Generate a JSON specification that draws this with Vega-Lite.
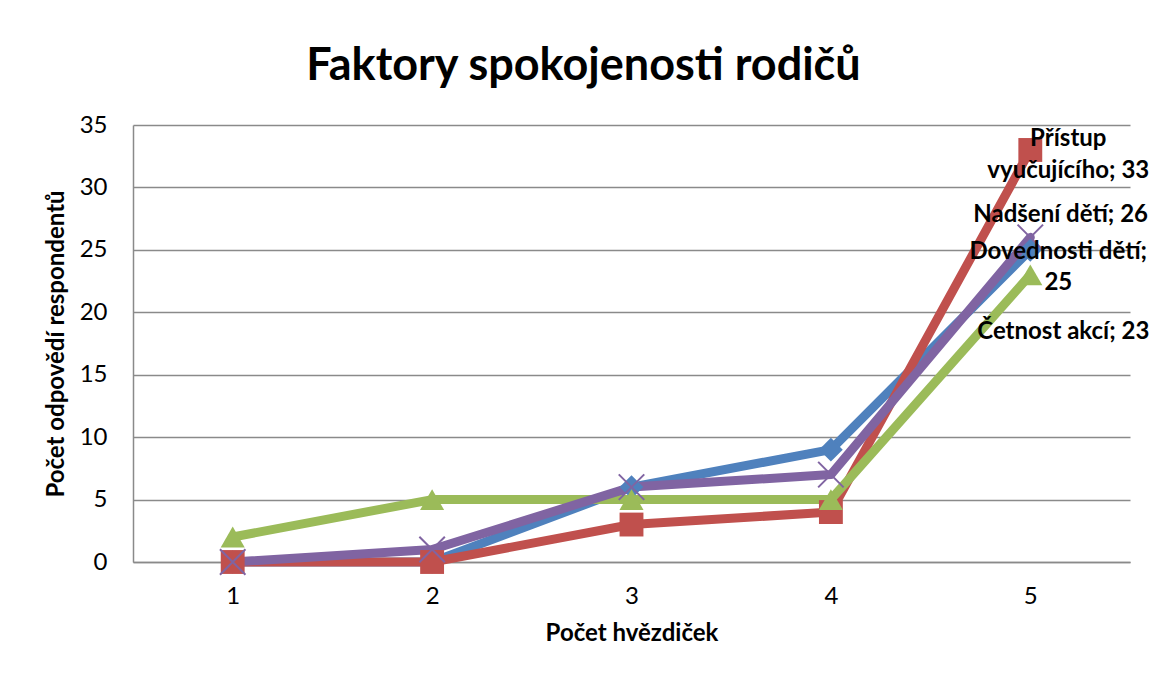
{
  "$schema": "https://vega.github.io/schema/vega-lite/v6.json",
  "width": 997,
  "height": 437,
  "autosize": "none",
  "padding": {"left": 133, "top": 125, "right": 19, "bottom": 115},
  "background": "white",
  "config": {"view": {"stroke": null}, "font": "Lato"},
  "title": {
    "text": "Faktory spokojenosti rodičů",
    "font": "Lato",
    "fontSize": 45,
    "fontWeight": "bold",
    "color": "black",
    "anchor": "middle",
    "frame": "group",
    "dx": -48,
    "baseline": "alphabetic",
    "offset": -12
  },
  "datasets": {
    "series": [
      {"s": "Dovednosti dětí", "x": 1, "y": 0},
      {"s": "Dovednosti dětí", "x": 2, "y": 0},
      {"s": "Dovednosti dětí", "x": 3, "y": 6},
      {"s": "Dovednosti dětí", "x": 4, "y": 9},
      {"s": "Dovednosti dětí", "x": 5, "y": 25},
      {"s": "Přístup vyučujícího", "x": 1, "y": 0},
      {"s": "Přístup vyučujícího", "x": 2, "y": 0},
      {"s": "Přístup vyučujícího", "x": 3, "y": 3},
      {"s": "Přístup vyučujícího", "x": 4, "y": 4},
      {"s": "Přístup vyučujícího", "x": 5, "y": 33},
      {"s": "Četnost akcí", "x": 1, "y": 2},
      {"s": "Četnost akcí", "x": 2, "y": 5},
      {"s": "Četnost akcí", "x": 3, "y": 5},
      {"s": "Četnost akcí", "x": 4, "y": 5},
      {"s": "Četnost akcí", "x": 5, "y": 23},
      {"s": "Nadšení dětí", "x": 1, "y": 0},
      {"s": "Nadšení dětí", "x": 2, "y": 1},
      {"s": "Nadšení dětí", "x": 3, "y": 6},
      {"s": "Nadšení dětí", "x": 4, "y": 7},
      {"s": "Nadšení dětí", "x": 5, "y": 26}
    ],
    "labels": [
      {"s": "Dovednosti dětí", "x": 5, "y": 25, "lbl": "Dovednosti dětí;\n25"},
      {"s": "Přístup vyučujícího", "x": 5, "y": 33, "lbl": "Přístup\nvyučujícího; 33"},
      {"s": "Četnost akcí", "x": 5, "y": 23, "lbl": "Četnost akcí; 23"},
      {"s": "Nadšení dětí", "x": 5, "y": 26, "lbl": "Nadšení dětí; 26"}
    ]
  },
  "data": {"name": "series"},
  "encoding": {
    "x": {
      "field": "x",
      "type": "ordinal",
      "scale": {"type": "point", "padding": 0.5},
      "axis": {
        "title": "Počet hvězdiček",
        "titleFont": "Lato",
        "titleFontSize": 24,
        "titleFontWeight": "bold",
        "titleColor": "black",
        "titlePadding": 13,
        "labelFont": "Lato",
        "labelFontSize": 24,
        "labelColor": "black",
        "labelAngle": 0,
        "labelPadding": 22,
        "ticks": false,
        "tickSize": 0,
        "domain": true,
        "domainColor": "#8a8a8a",
        "domainWidth": 1.5,
        "grid": false
      }
    },
    "y": {
      "field": "y",
      "type": "quantitative",
      "scale": {"domain": [0, 35], "nice": false, "zero": true},
      "axis": {
        "title": "Počet odpovědí respondentů",
        "values": [0, 5, 10, 15, 20, 25, 30, 35],
        "titleFont": "Lato",
        "titleFontSize": 24,
        "titleFontWeight": "bold",
        "titleColor": "black",
        "titlePadding": 11,
        "labelFont": "Lato",
        "labelFontSize": 24,
        "labelColor": "black",
        "labelPadding": 26,
        "ticks": false,
        "tickSize": 0,
        "domain": true,
        "domainColor": "#8a8a8a",
        "domainWidth": 1.5,
        "grid": true,
        "gridColor": "#8a8a8a",
        "gridWidth": 1.5
      }
    }
  },
  "layer": [
    {
      "mark": {"type": "line", "strokeWidth": 9, "strokeCap": "round", "strokeJoin": "round"},
      "encoding": {
        "color": {
          "field": "s",
          "type": "nominal",
          "scale": {
            "domain": ["Dovednosti dětí", "Přístup vyučujícího", "Četnost akcí", "Nadšení dětí"],
            "range": ["#4F81BD", "#C0504D", "#9BBB59", "#8064A2"]
          },
          "legend": null
        }
      }
    },
    {
      "transform": [{"filter": "datum.s !== 'Nadšení dětí'"}],
      "mark": {"type": "point", "filled": true, "opacity": 1},
      "encoding": {
        "shape": {
          "field": "s",
          "type": "nominal",
          "scale": {
            "domain": ["Dovednosti dětí", "Přístup vyučujícího", "Četnost akcí"],
            "range": ["diamond", "square", "triangle-up"]
          },
          "legend": null
        },
        "size": {
          "field": "s",
          "type": "nominal",
          "scale": {
            "domain": ["Dovednosti dětí", "Přístup vyučujícího", "Četnost akcí"],
            "range": [560, 580, 640]
          },
          "legend": null
        },
        "color": {
          "field": "s",
          "type": "nominal",
          "scale": {
            "domain": ["Dovednosti dětí", "Přístup vyučujícího", "Četnost akcí", "Nadšení dětí"],
            "range": ["#4F81BD", "#C0504D", "#9BBB59", "#8064A2"]
          },
          "legend": null
        }
      }
    },
    {
      "transform": [{"filter": "datum.s === 'Nadšení dětí'"}],
      "mark": {
        "type": "point",
        "shape": "M-1,-1L1,1M1,-1L-1,1",
        "filled": false,
        "size": 650,
        "strokeWidth": 2,
        "color": "#8064A2",
        "opacity": 1
      }
    },
    {
      "data": {"name": "labels"},
      "transform": [{"filter": "datum.s === 'Přístup vyučujícího'"}],
      "mark": {"type": "text", "font": "Lato", "fontSize": 24, "fontWeight": "bold", "color": "black", "align": "center", "baseline": "middle", "lineBreak": "\n", "lineHeight": 32, "dx": 38, "dy": -11},
      "encoding": {"text": {"field": "lbl"}}
    },
    {
      "data": {"name": "labels"},
      "transform": [{"filter": "datum.s === 'Nadšení dětí'"}],
      "mark": {"type": "text", "font": "Lato", "fontSize": 24, "fontWeight": "bold", "color": "black", "align": "left", "baseline": "middle", "dx": -57, "dy": -22},
      "encoding": {"text": {"field": "lbl"}}
    },
    {
      "data": {"name": "labels"},
      "transform": [{"filter": "datum.s === 'Dovednosti dětí'"}],
      "mark": {"type": "text", "font": "Lato", "fontSize": 24, "fontWeight": "bold", "color": "black", "align": "center", "baseline": "middle", "lineBreak": "\n", "lineHeight": 31, "dx": 28, "dy": 2},
      "encoding": {"text": {"field": "lbl"}}
    },
    {
      "data": {"name": "labels"},
      "transform": [{"filter": "datum.s === 'Četnost akcí'"}],
      "mark": {"type": "text", "font": "Lato", "fontSize": 24, "fontWeight": "bold", "color": "black", "align": "left", "baseline": "middle", "dx": -53, "dy": 57},
      "encoding": {"text": {"field": "lbl"}}
    }
  ]
}
